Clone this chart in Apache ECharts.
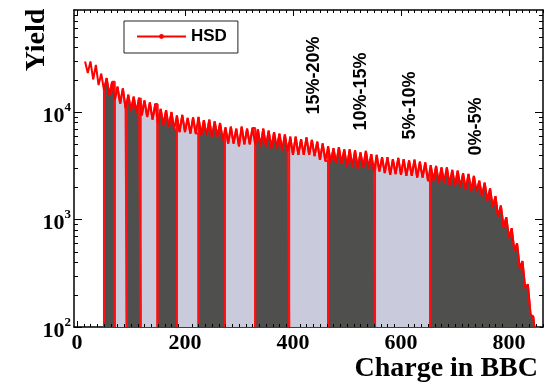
<!DOCTYPE html>
<html>
<head>
<meta charset="utf-8">
<script src="https://cdn.jsdelivr.net/npm/echarts@6/dist/echarts.min.js"></script>
<style>
  html, body { margin: 0; padding: 0; background: #fff; }
  #chart { width: 548px; height: 384px; }
</style>
</head>
<body>
<div id="chart"></div>
<script>
// HSD charge distribution in BBC, 5-unit bins starting at 15
const BIN_START = 15;
const BIN_WIDTH = 5;
const yields = [
  29500, 23100, 29600, 20100, 27400, 17800, 22800, 16000, 20700, 14300,
  19100, 12900, 17200, 12000, 16600, 10800, 14500, 10300, 13900, 9900,
  13600, 9300, 12800, 9000, 12300, 8500, 11900, 7800, 10700, 7600,
  10400, 7200, 10000, 6900, 9300, 6500, 9400, 6500, 8800, 6300,
  8900, 6300, 9000, 6100, 8400, 6000, 8500, 5800, 8200, 5900,
  7900, 5500, 7200, 5100, 7300, 5100, 7000, 4800, 7300, 5000,
  7000, 5000, 7100, 5000, 6900, 4800, 7000, 4800, 6700, 4600,
  6500, 4600, 6300, 4400, 6200, 4300, 5900, 4000, 5900, 4000,
  5600, 4000, 5800, 4000, 5500, 3900, 5300, 3600, 5100, 3500,
  4800, 3400, 4600, 3300, 4700, 3300, 4500, 3100, 4500, 3100,
  4400, 3000, 4200, 3050, 4350, 3000, 4050, 2800, 4000, 2800,
  3800, 2700, 3800, 2600, 3650, 2650, 3750, 2600, 3650, 2550,
  3550, 2550, 3600, 2450, 3450, 2450, 3400, 2300, 3200, 2300,
  3150, 2200, 3050, 2200, 3050, 2100, 2900, 2050, 2850, 2000,
  2700, 1900, 2650, 1850, 2550, 1800, 2300, 1650, 2200, 1500,
  1950, 1300, 1650, 1050, 1350, 850, 1050, 670, 830, 510,
  600, 350, 410, 230, 250, 130, 125, 72
];

// centrality class edges (5% steps), alternating dark / light fill
const bandEdges = [50, 70, 92, 118, 149, 185, 225, 274, 330, 393, 465, 552, 654, 855];
const bandColors = ['#4f4f4d', '#c9cbdd'];

const centLabels = ['15%-20%', '10%-15%', '5%-10%', '0%-5%'];
const centLabelX = [439, 526, 617, 739];
const centLabelY = [21900, 15500, 11500, 7330];

const xTicks = [0, 200, 400, 600, 800];
const yTicks = [100, 1000, 10000];

const X_MIN = -5.5, X_MAX = 863;
const Y_MIN = 100, Y_MAX = 89000;

const histPts = yields.map((v, i) => [BIN_START + i * BIN_WIDTH, v]);

function bandPoints(lo, hi) {
  const pts = [[lo, Y_MIN]];
  let last = Y_MIN;
  histPts.forEach(([x, v]) => {
    if (x + BIN_WIDTH <= lo || x >= hi) return;
    pts.push([Math.max(x, lo), v]);
    last = v;
  });
  pts.push([hi, last], [hi, Y_MIN]);
  return pts;
}

const bandSeries = [];
for (let i = 0; i < bandEdges.length - 1; i++) {
  bandSeries.push({
    type: 'line',
    symbol: 'none',
    silent: true,
    z: 2,
    data: bandPoints(bandEdges[i], bandEdges[i + 1]),
    lineStyle: { color: '#ff1010', width: 2 },
    areaStyle: { color: bandColors[i % 2], opacity: 1, origin: 'start' }
  });
}

const axisLineStyle = { color: '#000', width: 1.5 };
const serif = '"Liberation Serif", "Times New Roman", serif';

function xAxisCfg(pos, labels) {
  return {
    type: 'value', position: pos, min: X_MIN, max: X_MAX,
    axisLine: { show: true, onZero: false, lineStyle: axisLineStyle },
    axisTick: { show: true, inside: true, length: 6, customValues: xTicks, lineStyle: { color: '#000', width: 1 } },
    axisLabel: labels ? {
      customValues: xTicks, color: '#000', fontFamily: serif, fontWeight: 'bold', fontSize: 22, margin: 5
    } : { show: false },
    splitLine: { show: false }
  };
}

function yAxisCfg(pos, labels) {
  return {
    type: 'log', logBase: 10, position: pos, min: Y_MIN, max: Y_MAX,
    axisLine: { show: true, onZero: false, lineStyle: axisLineStyle },
    axisTick: { show: true, inside: true, length: 8, customValues: yTicks, lineStyle: { color: '#000', width: 1 } },
    axisLabel: labels ? {
      customValues: yTicks,
      margin: 3,
      formatter: (v) => '{b|10}{s|' + Math.round(Math.log10(v)) + '}',
      rich: {
        b: { fontFamily: serif, fontWeight: 'bold', fontSize: 22, lineHeight: 22, color: '#000', padding: [8, 0, 0, 0] },
        s: { fontFamily: serif, fontWeight: 'bold', fontSize: 13, lineHeight: 13, color: '#000', verticalAlign: 'top' }
      }
    } : { show: false },
    splitLine: { show: false }
  };
}

const chart = echarts.init(document.getElementById('chart'), null, { renderer: 'canvas' });

chart.setOption({
  animation: false,
  backgroundColor: '#fff',
  grid: { left: 74, right: 5, top: 10, bottom: 57 },
  legend: {
    data: ['HSD'],
    left: 124, top: 21,
    padding: [7, 11, 8, 12],
    itemWidth: 49, itemHeight: 6, itemGap: 0,
    borderColor: '#222', borderWidth: 1, backgroundColor: '#fff',
    textStyle: { fontFamily: '"Liberation Sans", Arial, sans-serif', fontWeight: 'bold', fontSize: 17, color: '#000' }
  },
  xAxis: [xAxisCfg('bottom', true), xAxisCfg('top', false)],
  yAxis: [yAxisCfg('left', true), yAxisCfg('right', false)],
  series: bandSeries.concat([{
    name: 'HSD',
    type: 'line',
    symbol: 'circle',
    symbolSize: 4,
    showSymbol: false,
    z: 3,
    data: histPts,
    color: '#ff0000',
    lineStyle: { color: '#ff0000', width: 2 }
  }])
});

// minor ticks + text annotations placed through the axes
const hsdIndex = bandSeries.length;
const px = (v) => chart.convertToPixel({ xAxisIndex: 0 }, v);
const py = (v) => chart.convertToPixel({ yAxisIndex: 0 }, v);
const gLeft = px(X_MIN), gRight = px(X_MAX), gBottom = py(Y_MIN), gTop = py(Y_MAX);

const els = [];
function tick(x1, y1, x2, y2) {
  els.push({ type: 'line', silent: true, z: 10, shape: { x1, y1, x2, y2 }, style: { stroke: '#000', lineWidth: 1 } });
}
for (let e = 2; e <= 4; e++) {
  for (let m = 2; m <= 9; m++) {
    const v = m * Math.pow(10, e);
    if (v >= Y_MAX) continue;
    const y = Math.round(py(v)) + 0.5;
    tick(gLeft, y, gLeft + 4, y);
    tick(gRight, y, gRight - 4, y);
  }
}
for (let v = 0; v <= X_MAX; v += 12.5) {
  if (v % 200 === 0) continue;
  const x = Math.round(px(v)) + 0.5;
  tick(x, gBottom, x, gBottom - 3);
  tick(x, gTop, x, gTop + 3);
}

centLabels.forEach((t, i) => {
  const p = chart.convertToPixel({ seriesIndex: hsdIndex }, [centLabelX[i], centLabelY[i]]);
  els.push({
    type: 'text', x: p[0], y: p[1], rotation: Math.PI / 2, z: 10, silent: true,
    style: { text: t, fontFamily: '"Liberation Sans", Arial, sans-serif', fontWeight: 'bold', fontSize: 18, fill: '#000', align: 'center', verticalAlign: 'middle' }
  });
});

els.push({
  type: 'text', x: 37, y: 40, rotation: Math.PI / 2, z: 10, silent: true,
  style: { text: 'Yield', fontFamily: serif, fontWeight: 'bold', fontSize: 28, fill: '#000', align: 'center', verticalAlign: 'middle' }
});
els.push({
  type: 'text', x: 538, y: 355, z: 10, silent: true,
  style: { text: 'Charge in BBC', fontFamily: serif, fontWeight: 'bold', fontSize: 28, fill: '#000', align: 'right', verticalAlign: 'top' }
});

chart.setOption({ graphic: els });
</script>
</body>
</html>
